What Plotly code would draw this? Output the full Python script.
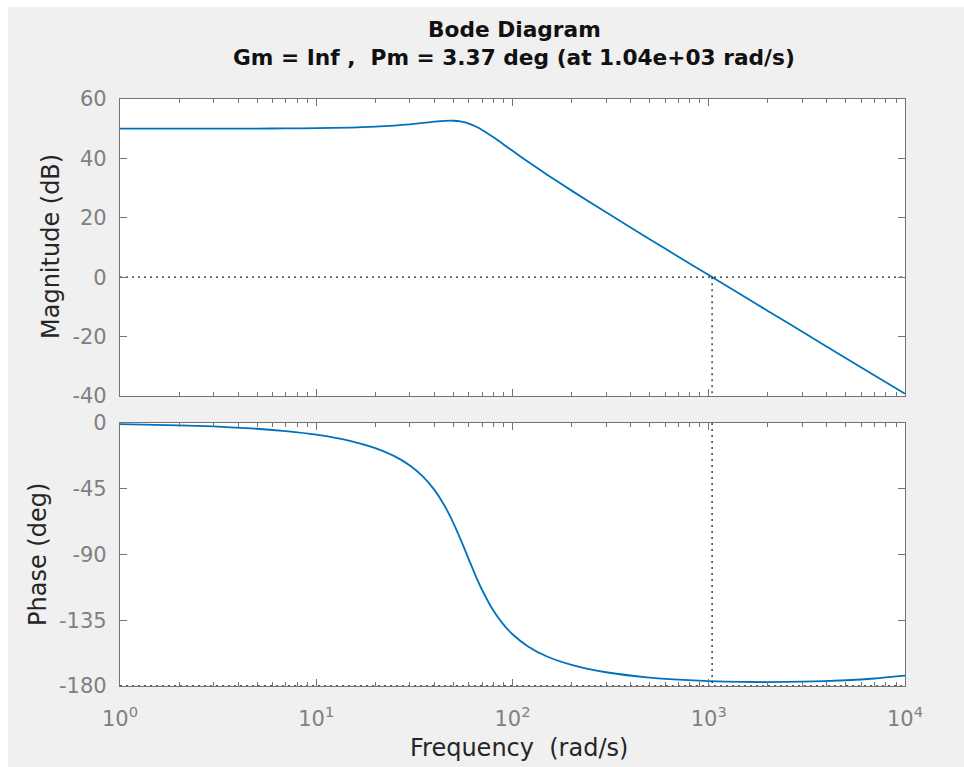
import plotly.graph_objects as go

# ---- data ----
freq = [1, 2, 3, 5, 7, 10, 15, 20, 25, 30, 35, 40, 45, 50, 55, 60, 65, 70, 80, 90,
        100, 120, 150, 200, 300, 500, 700, 1000, 1500, 2000, 3000, 5000, 7000, 10000]
mag_db = [50.00, 50.01, 50.02, 50.04, 50.09, 50.17, 50.39, 50.68, 51.05, 51.48, 51.93,
          52.35, 52.63, 52.68, 52.37, 51.70, 50.73, 49.58, 47.09, 44.71, 42.55, 38.87,
          34.52, 29.15, 21.83, 12.81, 6.92, 0.71, -6.35, -11.35, -18.40, -27.26, -33.09, -39.25]
phase_deg = [-0.78, -1.57, -2.36, -3.94, -5.55, -8.02, -12.38, -17.21, -22.70, -29.10,
             -36.70, -45.77, -56.44, -68.49, -81.23, -93.62, -104.78, -114.28, -128.49,
             -137.99, -144.57, -152.90, -159.80, -165.51, -170.59, -174.24, -175.67,
             -176.63, -177.19, -177.29, -177.06, -176.06, -174.85, -172.94]

wc = 1040.0          # crossover frequency (rad/s)
pm = 3.37            # phase margin (deg)
gm_text = "Inf"

x_ticks = [1, 10, 100, 1000, 10000]
x_ticktext = ["10<sup>0</sup>", "10<sup>1</sup>", "10<sup>2</sup>", "10<sup>3</sup>", "10<sup>4</sup>"]
mag_ticks = [-40, -20, 0, 20, 40, 60]
phase_ticks = [-180, -135, -90, -45, 0]

W, H = 964, 767
BG = "#f0f0f0"
BLUE = "#0072BD"
FRAME = "#737373"
TICKC = "#808080"
FONT = "DejaVu Sans"

def px(x):
    return x / W

def py(y):
    return 1 - y / H

fig = go.Figure()

fig.add_trace(go.Scatter(x=freq, y=mag_db, mode="lines", xaxis="x", yaxis="y",
                         line=dict(color=BLUE, width=1.8, shape="spline", smoothing=0.6),
                         showlegend=False, hoverinfo="skip"))
fig.add_trace(go.Scatter(x=freq, y=phase_deg, mode="lines", xaxis="x2", yaxis="y2",
                         line=dict(color=BLUE, width=1.8, shape="spline", smoothing=0.6),
                         showlegend=False, hoverinfo="skip"))

dot = dict(color="#222222", width=1.3, dash="2px,4px")
fig.add_trace(go.Scatter(x=[freq[0], freq[-1]], y=[0, 0], mode="lines", xaxis="x", yaxis="y",
                         line=dot, showlegend=False, hoverinfo="skip"))
fig.add_trace(go.Scatter(x=[wc, wc], y=[0, mag_ticks[0]], mode="lines", xaxis="x", yaxis="y",
                         line=dot, showlegend=False, hoverinfo="skip"))
fig.add_trace(go.Scatter(x=[freq[0], freq[-1]], y=[-180, -180], mode="lines", xaxis="x2", yaxis="y2",
                         line=dot, showlegend=False, hoverinfo="skip", cliponaxis=False))
fig.add_trace(go.Scatter(x=[wc, wc], y=[0, -180], mode="lines", xaxis="x2", yaxis="y2",
                         line=dot, showlegend=False, hoverinfo="skip"))

common_x = dict(type="log", range=[0, 4], domain=[px(120), px(905)],
                tickvals=x_ticks, ticks="inside", ticklen=7, tickcolor=FRAME,
                showline=True, linecolor=FRAME, linewidth=1.2, mirror="ticks",
                showgrid=False, zeroline=False, automargin=False,
                minor=dict(ticks="inside", ticklen=4, tickcolor=FRAME, dtick="D1", showgrid=False))
common_y = dict(ticks="inside", ticklen=7, tickcolor=FRAME, showline=True, linecolor=FRAME,
                linewidth=1.2, mirror="ticks", showgrid=False, zeroline=False, automargin=False,
                tickfont=dict(family=FONT, size=21, color=TICKC), ticklabelstandoff=8)

fig.update_layout(
    width=W, height=H, margin=dict(l=0, r=0, t=0, b=0, pad=0, autoexpand=False),
    paper_bgcolor=BG, plot_bgcolor="white",
    xaxis=dict(common_x, anchor="y", showticklabels=False),
    yaxis=dict(common_y, anchor="x", range=[-40, 60], domain=[py(396), py(99)],
               tickvals=mag_ticks, ticktext=[str(v) for v in mag_ticks]),
    xaxis2=dict(common_x, anchor="y2", ticktext=x_ticktext,
                tickfont=dict(family=FONT, size=21, color=TICKC), ticklabelstandoff=14),
    yaxis2=dict(common_y, anchor="x2", range=[-180, 0], domain=[py(686), py(423)],
                tickvals=phase_ticks, ticktext=[str(v) for v in phase_ticks]),
    shapes=[
        dict(type="rect", xref="paper", yref="paper", x0=0, x1=1, y0=py(7), y1=1,
             fillcolor="white", line=dict(width=0), layer="below"),
        dict(type="rect", xref="paper", yref="paper", x0=0, x1=px(8), y0=0, y1=1,
             fillcolor="white", line=dict(width=0), layer="below"),
    ],
    annotations=[
        dict(text="<b>Bode Diagram</b>", x=px(514), y=py(29), xref="paper", yref="paper",
             showarrow=False, xanchor="center", yanchor="middle",
             font=dict(family=FONT, size=21.7, color="#111111")),
        dict(text=f"<b>Gm = {gm_text} ,  Pm = {pm:.2f} deg (at {wc:.2e} rad/s)</b>",
             x=px(514), y=py(58), xref="paper", yref="paper",
             showarrow=False, xanchor="center", yanchor="middle",
             font=dict(family=FONT, size=21.7, color="#111111")),
        dict(text="Magnitude (dB)", x=px(51), y=py(247), xref="paper", yref="paper",
             showarrow=False, textangle=-90, xanchor="center", yanchor="middle",
             font=dict(family=FONT, size=24, color="#262626")),
        dict(text="Phase (deg)", x=px(38), y=py(555), xref="paper", yref="paper",
             showarrow=False, textangle=-90, xanchor="center", yanchor="middle",
             font=dict(family=FONT, size=24, color="#262626")),
        dict(text="Frequency  (rad/s)", x=px(519), y=py(748), xref="paper", yref="paper",
             showarrow=False, xanchor="center", yanchor="middle",
             font=dict(family=FONT, size=24, color="#262626")),
    ],
)

fig.write_html(
    "out.html",
    post_script="document.documentElement.style.margin='0';document.body.style.margin='0';"
                "document.documentElement.style.overflow='hidden';document.body.style.overflow='hidden';",
)
